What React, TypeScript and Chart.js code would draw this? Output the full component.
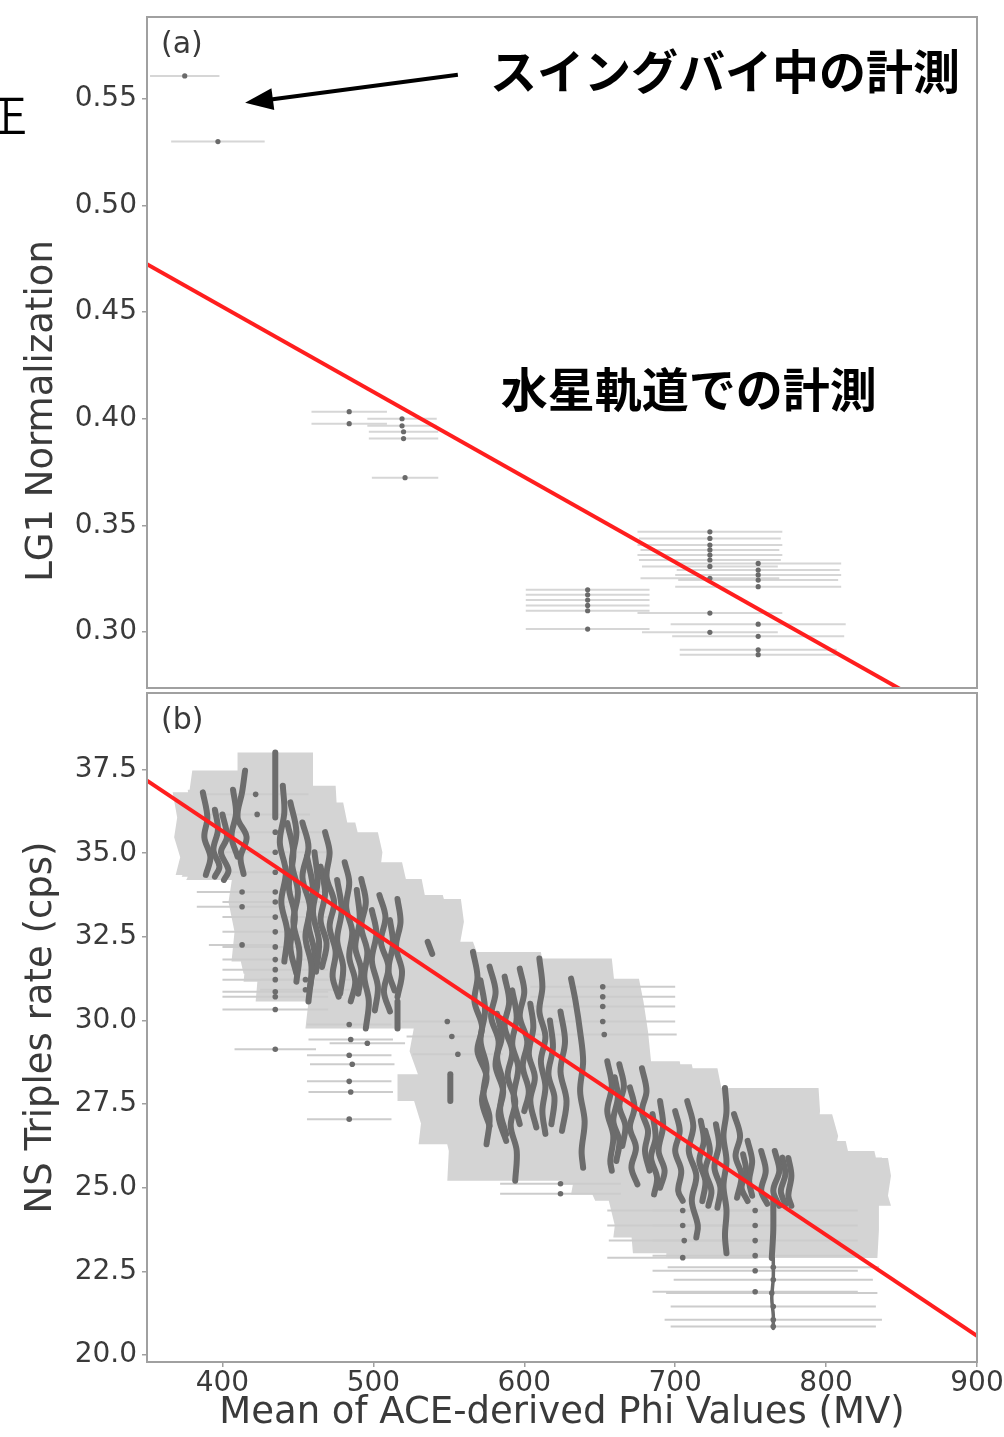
import React, { useEffect, useRef } from 'react';
import { Chart, registerables } from 'chart.js';

Chart.register(...registerables);

// ---------------- Panel (a): LG1 normalization ----------------
const phiA = [375, 397, 484, 484, 519, 519, 520, 520, 521, 642, 642, 642, 642, 642, 642, 723, 723, 723, 723, 723, 723, 723, 723, 723, 723, 755, 755, 755, 755, 755, 755, 755, 755, 755];
const lg1A = [0.5607, 0.5299, 0.4033, 0.3977, 0.4, 0.3967, 0.3939, 0.3907, 0.3724, 0.3198, 0.3175, 0.315, 0.3125, 0.31, 0.3014, 0.347, 0.3439, 0.3408, 0.3385, 0.3361, 0.3338, 0.3308, 0.3252, 0.3089, 0.2999, 0.3322, 0.3291, 0.3268, 0.3244, 0.3213, 0.3037, 0.298, 0.2917, 0.2894];
const phiErrA = [23, 31, 25, 25, 23, 23, 23, 23, 22, 41, 41, 41, 41, 41, 41, 48, 47, 48, 46, 48, 47, 45, 46, 48, 45, 55, 54, 55, 53, 55, 58, 57, 52, 52];
const yTicksA = [0.3, 0.35, 0.4, 0.45, 0.5, 0.55];

// ---------------- Panel (b): NS triples rate ----------------
// each streak: consecutive measurements (phi, rate); streakErr = phi spread (0 = no spread band)
const streakPhi = [
  [387, 390, 388, 392, 389],
  [400, 403, 399, 404, 401],
  [415, 413, 410, 416, 412, 414],
  [435, 435, 435],
  [440, 441, 438, 442, 439, 443, 441],
  [445, 449, 446, 450, 447, 451, 449],
  [453, 457, 453, 458, 455, 459, 457],
  [461, 463, 460, 464, 462],
  [468, 471, 469, 474, 471, 475, 473, 477],
  [481, 484, 482, 486, 484, 488, 485],
  [492, 495, 492, 496, 494, 497, 495],
  [504, 508, 505, 510, 507, 511],
  [516, 518, 515, 519, 516],
  [536, 539],
  [516, 516],
  [551, 551],
  [566, 569, 567, 572, 569, 575, 572, 577],
  [577, 581, 578, 583, 581, 586, 583, 588],
  [587, 590, 587, 592, 589, 594, 591, 595, 594],
  [597, 600, 597, 602, 599, 603, 600],
  [610, 612, 610, 614, 611, 614, 612, 614],
  [624, 627, 624, 628, 625],
  [631, 634, 637, 639, 637, 640, 638, 639],
  [655, 658, 655, 659, 657, 658],
  [663, 666, 663, 667, 665],
  [678, 681, 678, 682, 680, 683],
  [690, 692, 689, 693, 690],
  [700, 703, 700, 704, 702, 705],
  [708, 712, 709, 714, 711, 715, 714],
  [720, 723, 720, 724, 722],
  [733, 734, 732, 734, 732, 734, 733, 734],
  [739, 743, 740, 744, 741],
  [748, 751, 749, 751],
  [757, 760, 757, 761],
  [766, 769, 765, 769],
  [775, 777, 775, 777],
  [765, 765, 764],
  [765, 765, 764, 765, 765],
  [395, 397, 394, 398, 395],
  [407, 409, 406, 410],
  [443, 447, 444, 448, 445, 449],
  [456, 460, 457, 461, 458],
  [465, 468, 465, 469, 466],
  [476, 479, 476, 480, 478],
  [489, 491, 488, 492, 490],
  [499, 502, 499, 503, 501],
  [511, 513, 510, 514],
  [571, 574, 571, 575, 573, 577, 575],
  [582, 585, 582, 586, 584, 588],
  [592, 595, 592, 596, 593, 597],
  [604, 606, 603, 607, 604, 608],
  [617, 619, 616, 620, 618],
  [660, 662, 659, 663, 661],
  [670, 673, 670, 674, 671, 675],
  [685, 687, 684, 688, 686],
  [717, 719, 716, 720, 718],
  [727, 729, 726, 730, 728],
  [745, 747, 744, 748],
  [771, 773, 770, 773],
];
const streakRate = [
  [36.82, 36.07, 35.48, 34.88, 34.35],
  [36.16, 35.48, 35.03, 34.49, 34.2],
  [37.47, 36.82, 36.07, 35.48, 34.88, 34.38],
  [38.01, 36.82, 36.07],
  [37.02, 36.22, 35.33, 34.43, 33.54, 32.65, 31.76],
  [36.52, 35.63, 34.73, 33.84, 32.95, 32.05, 31.16],
  [35.92, 35.18, 34.29, 33.39, 32.5, 31.61, 30.57],
  [35.03, 34.14, 33.24, 32.35, 31.46],
  [35.63, 35.03, 34.29, 33.54, 32.8, 32.05, 31.31, 30.71],
  [34.73, 34.14, 33.39, 32.65, 31.9, 31.16, 30.57],
  [34.23, 33.54, 32.8, 32.05, 31.31, 30.57, 29.76],
  [33.75, 33.09, 32.35, 31.61, 30.86, 30.27],
  [33.63, 32.95, 32.2, 31.46, 30.71],
  [32.35, 31.99],
  [30.57, 29.76],
  [28.39, 27.59],
  [32.05, 31.31, 30.57, 29.82, 29.08, 28.33, 27.59, 26.85],
  [31.61, 30.86, 30.12, 29.38, 28.63, 27.89, 27.14, 26.4],
  [31.31, 30.57, 29.82, 29.08, 28.33, 27.59, 26.85, 26.1, 25.21],
  [31.55, 30.86, 30.12, 29.38, 28.63, 27.89, 27.29],
  [31.85, 31.01, 30.27, 29.52, 28.78, 28.04, 27.29, 26.61],
  [30.27, 29.38, 28.48, 27.59, 26.7],
  [31.25, 30.57, 29.67, 28.78, 27.89, 26.99, 26.1, 25.6],
  [28.78, 28.04, 27.29, 26.55, 25.8, 25.51],
  [28.69, 28.04, 27.44, 26.85, 26.25],
  [28.57, 27.89, 27.29, 26.7, 26.1, 25.51],
  [27.59, 26.85, 26.1, 25.51, 25.0],
  [27.29, 26.7, 26.1, 25.51, 24.91, 24.61],
  [27.59, 26.85, 26.1, 25.36, 24.61, 23.87, 23.51],
  [26.7, 26.1, 25.51, 24.91, 24.46],
  [27.98, 27.29, 26.55, 25.8, 25.06, 24.32, 23.58, 23.04],
  [27.2, 26.55, 25.95, 25.36, 24.7],
  [26.4, 25.8, 25.21, 24.76],
  [26.1, 25.51, 24.91, 24.52],
  [26.1, 25.51, 24.91, 24.46],
  [25.89, 25.36, 24.76, 24.46],
  [24.61, 23.72, 22.9],
  [22.9, 22.3, 21.7, 21.2, 20.79],
  [36.3, 35.7, 35.1, 34.6, 34.3],
  [36.9, 36.2, 35.5, 34.9],
  [35.9, 35.0, 34.0, 33.1, 32.2, 31.4],
  [34.9, 33.9, 32.9, 32.0, 31.0],
  [34.6, 33.8, 33.0, 32.3, 31.6],
  [34.2, 33.3, 32.4, 31.6, 30.8],
  [33.9, 33.0, 32.2, 31.5, 30.8],
  [33.3, 32.6, 31.8, 31.0, 30.3],
  [33.0, 32.3, 31.5, 30.9],
  [31.2, 30.3, 29.4, 28.6, 27.8, 27.1, 26.3],
  [30.2, 29.5, 28.9, 28.1, 27.3, 26.6],
  [30.9, 30.1, 29.3, 28.6, 27.7, 26.9],
  [30.5, 29.8, 29.0, 28.3, 27.6, 26.8],
  [30.0, 29.2, 28.4, 27.7, 26.9],
  [28.3, 27.7, 27.0, 26.4, 25.8],
  [28.0, 27.4, 26.8, 26.2, 25.6, 25.1],
  [27.2, 26.5, 25.9, 25.3, 24.8],
  [27.0, 26.4, 25.8, 25.2, 24.6],
  [26.9, 26.3, 25.6, 25.0, 24.4],
  [26.0, 25.5, 25.0, 24.6],
  [25.9, 25.4, 24.9, 24.5],
];
const streakErr = [20, 25, 35, 25, 35, 35, 35, 35, 35, 38, 40, 42, 42, 30, 30, 35, 45, 45, 45, 45, 48, 45, 45, 48, 48, 50, 55, 58, 55, 62, 62, 65, 65, 65, 66, 66, 70, 0, 22, 30, 35, 35, 35, 38, 40, 42, 42, 45, 45, 45, 46, 46, 48, 50, 55, 60, 62, 65, 66];

// isolated measurements
const dotPhi = [413, 413, 413, 422, 423, 435, 435, 435, 435, 435, 435, 435, 435, 435, 435, 435, 435, 435, 435, 435, 455, 455, 484, 485, 484, 486, 484, 485, 484, 496, 549, 552, 556, 652, 652, 652, 652, 653, 624, 624, 705, 705, 706, 705, 753, 753, 753, 753, 753, 753, 765, 765, 764, 765, 765, 765];
const dotRate = [33.84, 33.4, 32.26, 36.76, 36.16, 35.63, 35.03, 34.43, 33.84, 33.54, 33.09, 32.65, 32.2, 31.82, 31.52, 31.22, 30.86, 30.71, 30.33, 29.14, 31.22, 30.92, 29.88, 29.43, 28.96, 28.69, 28.18, 27.86, 27.05, 29.32, 29.97, 29.52, 28.99, 31.01, 30.71, 30.42, 29.97, 29.58, 25.12, 24.82, 24.32, 23.87, 23.42, 22.91, 24.32, 23.87, 23.42, 22.97, 22.52, 21.89, 22.62, 22.25, 21.85, 21.45, 21.05, 20.85];
const dotErr = [30, 30, 22, 35, 35, 35, 35, 35, 35, 35, 35, 35, 35, 35, 35, 35, 35, 35, 35, 27, 30, 30, 28, 28, 28, 28, 28, 28, 28, 25, 30, 30, 30, 48, 48, 48, 48, 48, 40, 40, 50, 50, 50, 50, 68, 68, 68, 68, 68, 68, 70, 66, 70, 68, 72, 68];
const yTicksB = [20, 22.5, 25, 27.5, 30, 32.5, 35, 37.5];
const xTicks = [400, 500, 600, 700, 800, 900];

// linear fits
const fitPhi = [350, 900];
const fitLG1 = [0.4724, 0.253];
const fitRate = [37.17, 20.57];

const panelLabels = ['(a)', '(b)'];
const yTitles = ['LG1 Normalization', 'NS Triples rate (cps)'];
const xTitle = 'Mean of ACE-derived Phi Values (MV)';
const noteSwingby = 'スイングバイ中の計測';
const noteOrbit = '水星軌道での計測';
const cutGlyph = '正';

const FONT = "'DejaVu Sans', 'Liberation Sans', sans-serif";
const JP = "'Noto Sans CJK JP', 'Noto Sans CJK SC', sans-serif";
const AXIS = '#a0a0a0';
const TXT = '#3a3a3a';
const RED = '#ff1e1e';
const DARK = '#6c6c6c';
const BAND = '#d4d4d4';

const errorPlugin = {
  id: 'xErrors',
  beforeDatasetsDraw(chart: any) {
    const { ctx, chartArea: a } = chart;
    const xs = chart.scales.x;
    const ys = chart.scales.y;
    ctx.save();
    ctx.beginPath();
    ctx.rect(a.left, a.top, a.right - a.left, a.bottom - a.top);
    ctx.clip();
    ctx.beginPath();
    let any = false;
    chart.data.datasets.forEach((ds: any) => {
      if (!ds.bandErr) return;
      const e = ds.bandErr;
      const pts = ds.data;
      for (let i = 0; i < pts.length - 1; i++) {
        let p = pts[i];
        let q = pts[i + 1];
        if (p.y < q.y) {
          const t = p;
          p = q;
          q = t;
        }
        const py = ys.getPixelForValue(p.y);
        const qy = ys.getPixelForValue(q.y);
        ctx.moveTo(xs.getPixelForValue(p.x - e), py);
        ctx.lineTo(xs.getPixelForValue(p.x + e), py);
        ctx.lineTo(xs.getPixelForValue(q.x + e), qy);
        ctx.lineTo(xs.getPixelForValue(q.x - e), qy);
        ctx.closePath();
        any = true;
      }
    });
    if (any) {
      ctx.fillStyle = BAND;
      ctx.fill('nonzero');
    }
    chart.data.datasets.forEach((ds: any) => {
      if (!ds.barErr) return;
      ctx.strokeStyle = ds.barColor;
      ctx.lineWidth = ds.barWidth;
      ds.data.forEach((p: any, i: number) => {
        const y = ys.getPixelForValue(p.y);
        ctx.beginPath();
        ctx.moveTo(xs.getPixelForValue(p.x - ds.barErr[i]), y);
        ctx.lineTo(xs.getPixelForValue(p.x + ds.barErr[i]), y);
        ctx.stroke();
      });
    });
    ctx.restore();
  },
};

function makeFrame(label: string) {
  return {
    id: 'frame',
    afterDraw(chart: any) {
      const { ctx, chartArea: a } = chart;
      ctx.save();
      ctx.strokeStyle = AXIS;
      ctx.lineWidth = 2;
      ctx.strokeRect(a.left, a.top, a.right - a.left, a.bottom - a.top);
      ctx.fillStyle = TXT;
      ctx.font = `30px ${FONT}`;
      ctx.textAlign = 'left';
      ctx.textBaseline = 'middle';
      ctx.fillText(label, a.left + 14, a.top + 28);
      ctx.restore();
    },
  };
}

const notesPlugin = {
  id: 'notes',
  afterDraw(chart: any) {
    const { ctx } = chart;
    const xs = chart.scales.x;
    const ys = chart.scales.y;
    ctx.save();
    ctx.fillStyle = '#000';
    ctx.font = `bold 47px ${JP}`;
    ctx.textAlign = 'center';
    ctx.textBaseline = 'middle';
    ctx.fillText(noteSwingby, xs.getPixelForValue(733), ys.getPixelForValue(0.5631));
    ctx.fillText(noteOrbit, xs.getPixelForValue(709), ys.getPixelForValue(0.414));
    // arrow
    const tx = xs.getPixelForValue(556);
    const ty = ys.getPixelForValue(0.5612);
    const hx = xs.getPixelForValue(415);
    const hy = ys.getPixelForValue(0.5481);
    const dx = hx - tx;
    const dy = hy - ty;
    const len = Math.hypot(dx, dy);
    const ux = dx / len;
    const uy = dy / len;
    const headL = 28;
    const headW = 11;
    const bx = hx - ux * headL;
    const by = hy - uy * headL;
    ctx.strokeStyle = '#000';
    ctx.lineWidth = 4;
    ctx.beginPath();
    ctx.moveTo(tx, ty);
    ctx.lineTo(bx + ux * 4, by + uy * 4);
    ctx.stroke();
    ctx.beginPath();
    ctx.moveTo(hx, hy);
    ctx.lineTo(bx - uy * headW, by + ux * headW);
    ctx.lineTo(bx + uy * headW, by - ux * headW);
    ctx.closePath();
    ctx.fill();
    // clipped glyph at page edge
    ctx.font = `44px ${JP}`;
    ctx.textAlign = 'right';
    ctx.fillText(cutGlyph, 27, 115);
    // y title of panel (a)
    ctx.fillStyle = TXT;
    ctx.font = `37px ${FONT}`;
    ctx.translate(42, 411);
    ctx.rotate(-Math.PI / 2);
    ctx.textAlign = 'center';
    ctx.fillText(yTitles[0], 0, 0);
    ctx.restore();
  },
};

export default function App() {
  const topRef = useRef<HTMLCanvasElement | null>(null);
  const botRef = useRef<HTMLCanvasElement | null>(null);

  useEffect(() => {
    if (!topRef.current || !botRef.current) return;
    const tickFont = { family: FONT, size: 28 };
    const gridOpts = { drawOnChartArea: false, drawTicks: true, tickLength: 5, color: AXIS, lineWidth: 1.5 };

    const top = new Chart(topRef.current, {
      type: 'scatter',
      data: {
        datasets: [
          {
            data: fitPhi.map((x, i) => ({ x, y: fitLG1[i] })),
            showLine: true,
            borderColor: RED,
            borderWidth: 4,
            pointRadius: 0,
          },
          {
            data: phiA.map((x, i) => ({ x, y: lg1A[i] })),
            pointRadius: 2.6,
            backgroundColor: '#6a6a6a',
            borderWidth: 0,
            barErr: phiErrA,
            barColor: 'rgba(180,180,180,0.55)',
            barWidth: 2,
          } as any,
        ],
      },
      options: {
        animation: false,
        responsive: false,
        events: [],
        layout: { padding: { left: 0, right: 27, top: 17, bottom: 2 } },
        plugins: { legend: { display: false }, tooltip: { enabled: false } },
        scales: {
          x: { type: 'linear', min: 350, max: 900, display: false },
          y: {
            type: 'linear',
            min: 0.2738,
            max: 0.5883,
            afterBuildTicks: (s: any) => {
              s.ticks = yTicksA.map((v) => ({ value: v }));
            },
            afterFit: (s: any) => {
              s.width = 147;
              s.paddingTop = 0;
              s.paddingBottom = 0;
            },
            ticks: { font: tickFont, color: TXT, padding: 5, autoSkip: false, callback: (v: any) => Number(v).toFixed(2) },
            grid: gridOpts,
            border: { display: false },
          },
        },
      } as any,
      plugins: [errorPlugin, makeFrame(panelLabels[0]), notesPlugin],
    });

    const bottomSets: any[] = [
      {
        data: fitPhi.map((x, i) => ({ x, y: fitRate[i] })),
        showLine: true,
        borderColor: RED,
        borderWidth: 4,
        pointRadius: 0,
      },
      ...streakPhi.map((ph, k) => ({
        data: ph.map((x, i) => ({ x, y: streakRate[k][i] })),
        showLine: true,
        borderColor: DARK,
        borderWidth: streakErr[k] ? 6 : 3.5,
        borderCapStyle: 'round',
        borderJoinStyle: 'round',
        tension: 0.35,
        pointRadius: 0,
        bandErr: streakErr[k],
      })),
      {
        data: dotPhi.map((x, i) => ({ x, y: dotRate[i] })),
        pointRadius: 2.8,
        backgroundColor: DARK,
        borderWidth: 0,
        barErr: dotErr,
        barColor: '#cccccc',
        barWidth: 2,
      },
    ];

    const bottom = new Chart(botRef.current, {
      type: 'scatter',
      data: { datasets: bottomSets },
      options: {
        animation: false,
        responsive: false,
        events: [],
        layout: { padding: { left: 0, right: 27, top: 1, bottom: 0 } },
        plugins: { legend: { display: false }, tooltip: { enabled: false } },
        scales: {
          x: {
            type: 'linear',
            min: 350,
            max: 900,
            afterBuildTicks: (s: any) => {
              s.ticks = xTicks.map((v) => ({ value: v }));
            },
            afterFit: (s: any) => {
              s.height = 75;
              s.paddingLeft = 0;
              s.paddingRight = 0;
            },
            ticks: { font: tickFont, color: TXT, padding: 0, maxRotation: 0, autoSkip: false, callback: (v: any) => String(v) },
            grid: gridOpts,
            border: { display: false },
            title: { display: true, text: xTitle, font: { family: FONT, size: 37 }, color: TXT, padding: { top: 0, bottom: 1 } },
          },
          y: {
            type: 'linear',
            min: 19.79,
            max: 39.79,
            afterBuildTicks: (s: any) => {
              s.ticks = yTicksB.map((v) => ({ value: v }));
            },
            afterFit: (s: any) => {
              s.width = 147;
              s.paddingTop = 0;
              s.paddingBottom = 0;
            },
            ticks: { font: tickFont, color: TXT, padding: 5, autoSkip: false, callback: (v: any) => Number(v).toFixed(1) },
            grid: gridOpts,
            border: { display: false },
            title: { display: true, text: yTitles[1], font: { family: FONT, size: 37 }, color: TXT, padding: { top: 19, bottom: 0 } },
          },
        },
      } as any,
      plugins: [errorPlugin, makeFrame(panelLabels[1])],
    });

    return () => {
      top.destroy();
      bottom.destroy();
    };
  }, []);

  return (
    <div style={{ position: 'absolute', left: 0, top: 0, width: 1004, height: 1437, background: '#fff', overflow: 'hidden' }}>
      <canvas ref={topRef} width={1004} height={692} style={{ position: 'absolute', left: 0, top: 0, width: 1004, height: 692 }} />
      <canvas ref={botRef} width={1004} height={748} style={{ position: 'absolute', left: 0, top: 689, width: 1004, height: 748 }} />
    </div>
  );
}
